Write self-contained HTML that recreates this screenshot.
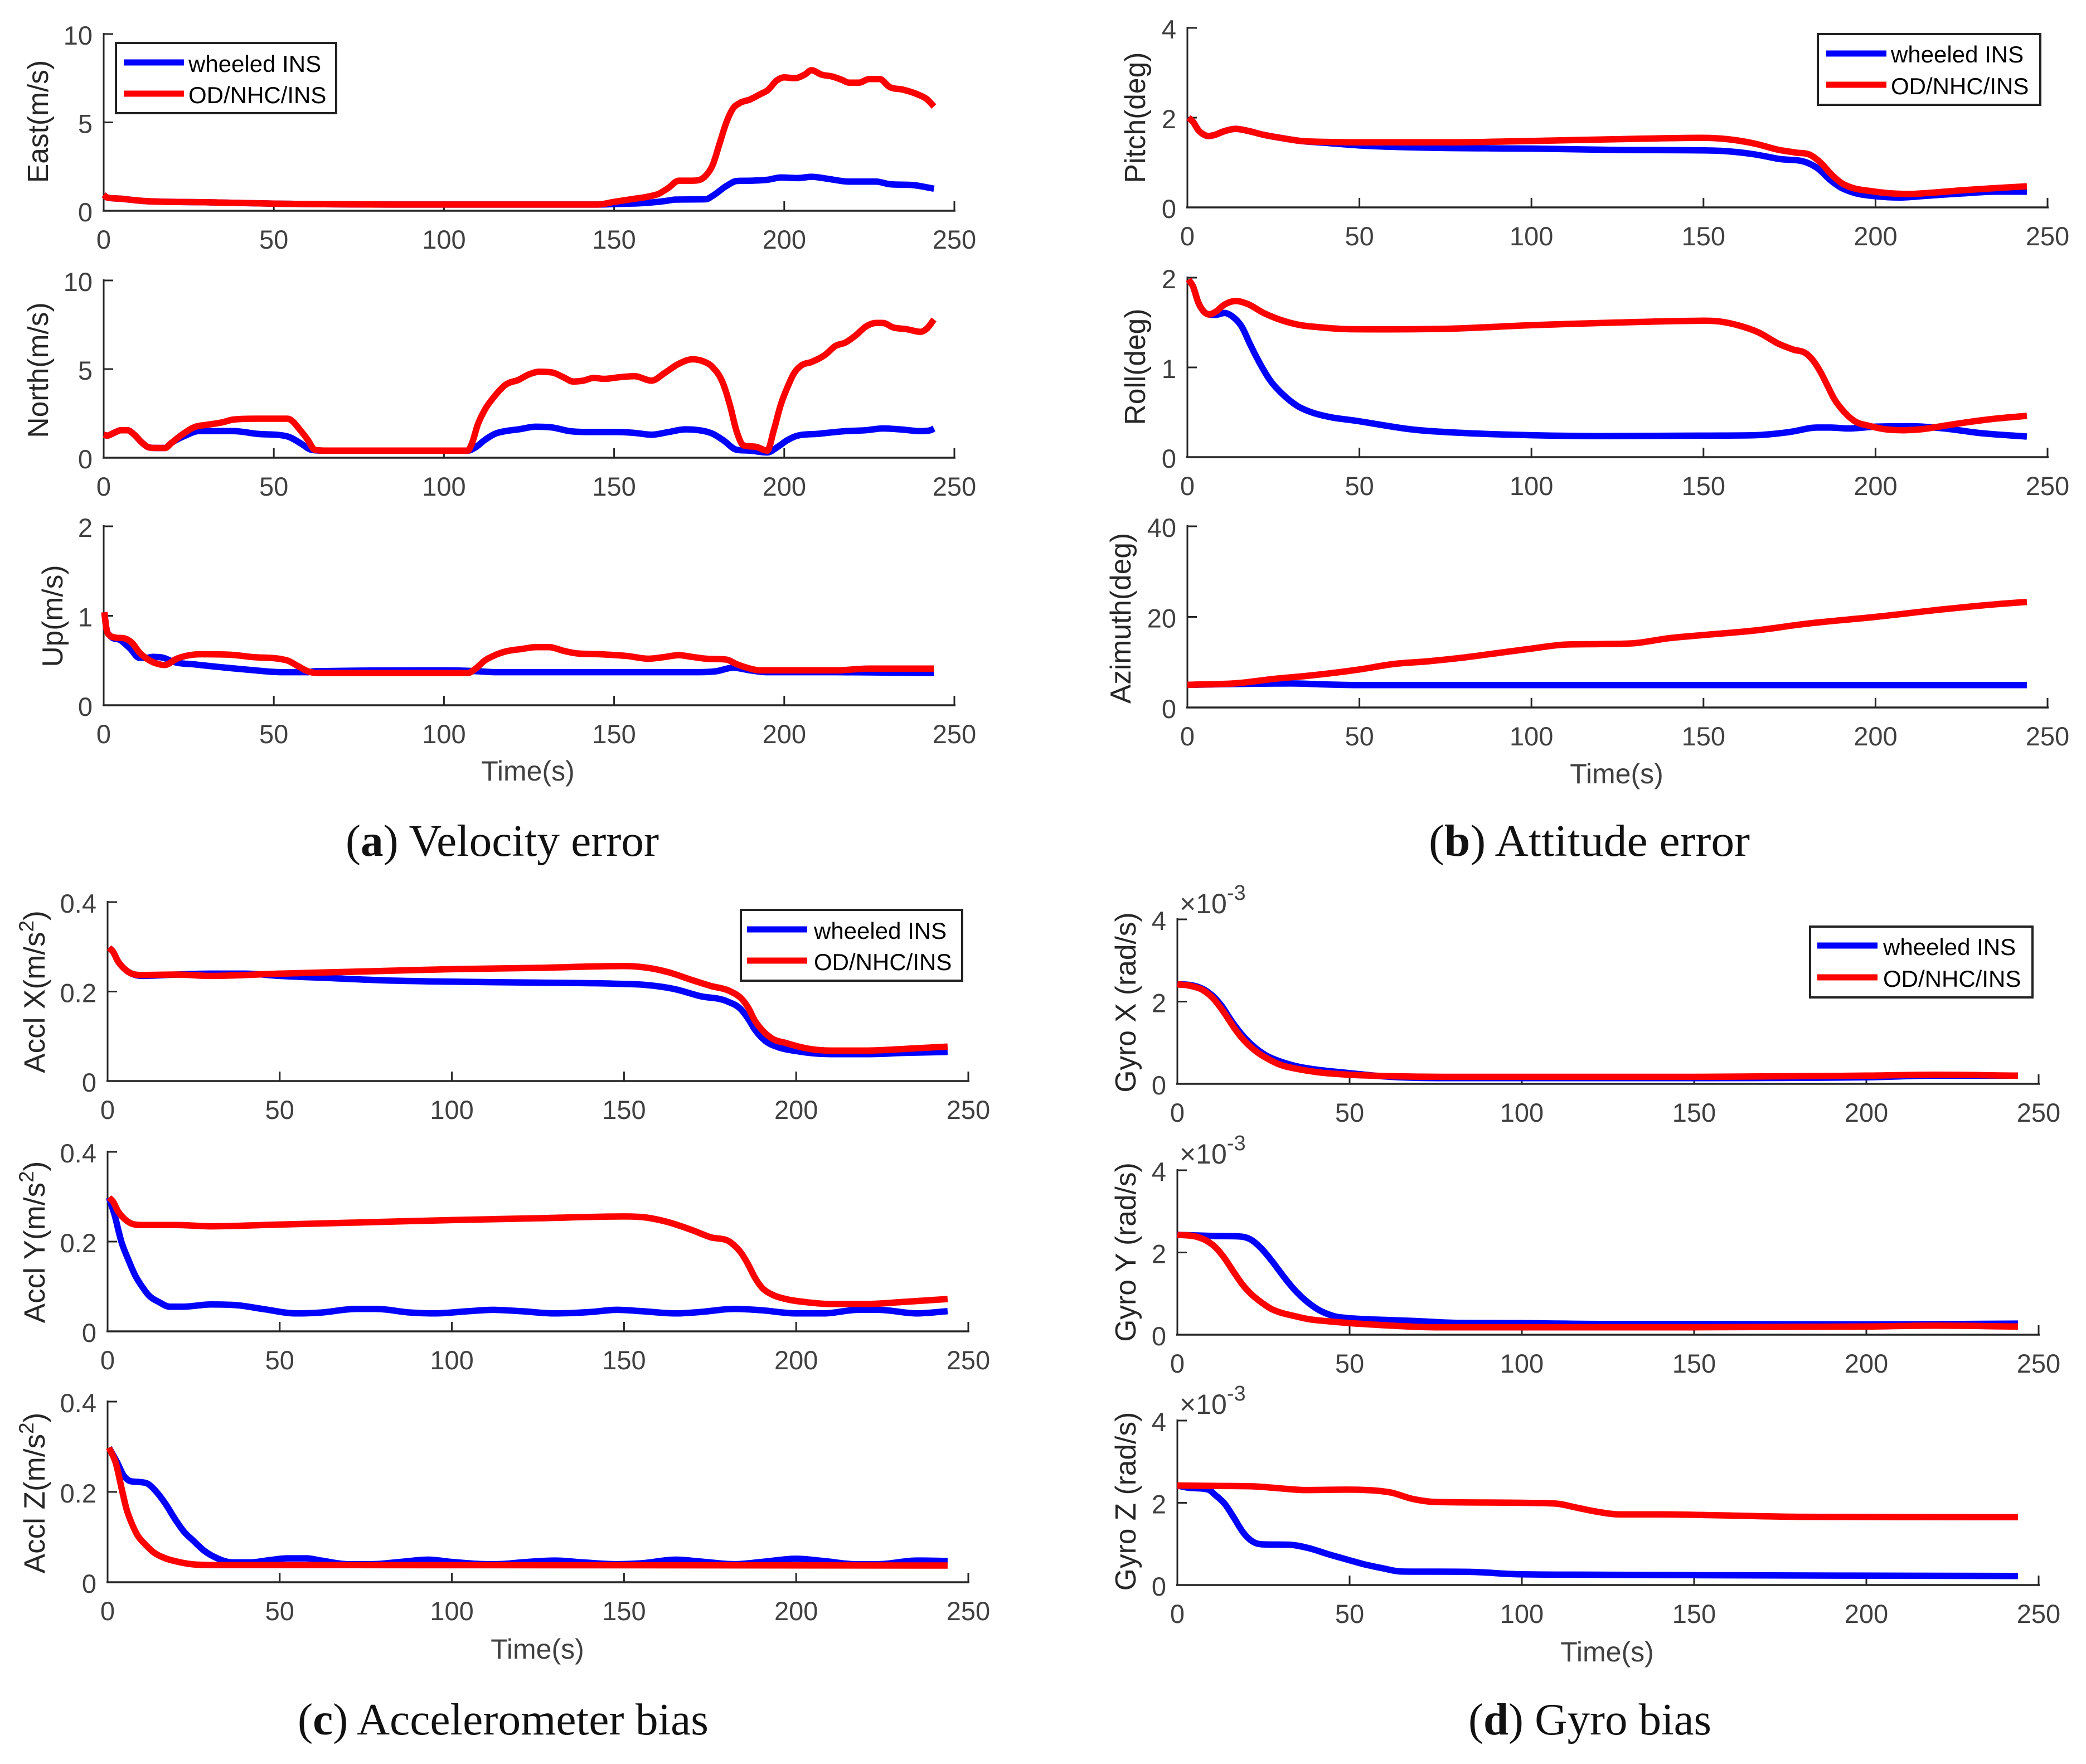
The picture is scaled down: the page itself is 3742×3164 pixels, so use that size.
<!DOCTYPE html>
<html lang="en">
<head>
<meta charset="utf-8">
<title>Velocity, attitude and bias error charts</title>
<style>
html,body{margin:0;padding:0;background:#fff;}
svg{display:block;}
text{font-family:"Liberation Sans",sans-serif;}
.ylab{font-size:51.5px;fill:#262626;}
.ylab-acc{font-size:53px;fill:#262626;}
.xlab{font-size:50px;fill:#404040;text-anchor:middle;}
.tick{font-size:47px;fill:#404040;}
.leg{font-size:42px;fill:#000;}
.cap{font-family:"Liberation Serif",serif;font-size:80px;fill:#111;}
.exp{font-size:50px;fill:#404040;}
</style>
</head>
<body>
<svg xmlns="http://www.w3.org/2000/svg" width="3742" height="3164" viewBox="0 0 3742 3164">
<rect width="3742" height="3164" fill="#fff"/>

<g>
  <g id="plot-east"></g>
  <g id="plot-north"></g>
  <g id="plot-up"></g>
  <text class="ylab" transform="translate(86 218) rotate(-90)" text-anchor="middle">East(m/s)</text>
  <text class="ylab" transform="translate(86 664) rotate(-90)" text-anchor="middle">North(m/s)</text>
  <text class="ylab" transform="translate(112 1105) rotate(-90)" text-anchor="middle">Up(m/s)</text>
  <text class="xlab" x="947" y="1400">Time(s)</text>
  <g>
    <rect x="208" y="77" width="395" height="126" fill="#fff" stroke="#222" stroke-width="4"/>
    <line x1="222" x2="330" y1="112" y2="112" stroke="#0000ff" stroke-width="11"/>
    <text class="leg" x="338" y="129">wheeled INS</text>
    <line x1="222" x2="330" y1="168" y2="168" stroke="#ff0000" stroke-width="11"/>
    <text class="leg" x="338" y="185">OD/NHC/INS</text>
  </g>
  <text class="cap" x="620" y="1535" textLength="562" lengthAdjust="spacingAndGlyphs">(<tspan font-weight="bold">a</tspan>) Velocity error</text>
</g>

<g>
  <g id="plot-pitch"></g>
  <g id="plot-roll"></g>
  <g id="plot-azimuth"></g>
  <text class="ylab" transform="translate(2054 211) rotate(-90)" text-anchor="middle">Pitch(deg)</text>
  <text class="ylab" transform="translate(2054 658) rotate(-90)" text-anchor="middle">Roll(deg)</text>
  <text class="ylab" transform="translate(2028 1109) rotate(-90)" text-anchor="middle">Azimuth(deg)</text>
  <text class="xlab" x="2900" y="1405">Time(s)</text>
  <g>
    <rect x="3261" y="61" width="399" height="127" fill="#fff" stroke="#222" stroke-width="4"/>
    <line x1="3276" x2="3384" y1="96" y2="96" stroke="#0000ff" stroke-width="11"/>
    <text class="leg" x="3392" y="112">wheeled INS</text>
    <line x1="3276" x2="3384" y1="152" y2="152" stroke="#ff0000" stroke-width="11"/>
    <text class="leg" x="3392" y="169">OD/NHC/INS</text>
  </g>
  <text class="cap" x="2563" y="1535" textLength="576" lengthAdjust="spacingAndGlyphs">(<tspan font-weight="bold">b</tspan>) Attitude error</text>
</g>

<g>
  <g id="plot-acclx"></g>
  <g id="plot-accly"></g>
  <g id="plot-acclz"></g>
  <text class="ylab-acc" transform="translate(80 1779) rotate(-90)" text-anchor="middle">Accl X(m/s<tspan font-size="37" dy="-20">2</tspan><tspan dy="20">)</tspan></text>
  <text class="ylab-acc" transform="translate(80 2228) rotate(-90)" text-anchor="middle">Accl Y(m/s<tspan font-size="37" dy="-20">2</tspan><tspan dy="20">)</tspan></text>
  <text class="ylab-acc" transform="translate(80 2678) rotate(-90)" text-anchor="middle">Accl Z(m/s<tspan font-size="37" dy="-20">2</tspan><tspan dy="20">)</tspan></text>
  <text class="xlab" x="964" y="2975">Time(s)</text>
  <g>
    <rect x="1329" y="1632" width="397" height="127" fill="#fff" stroke="#222" stroke-width="4"/>
    <line x1="1340" x2="1448" y1="1667" y2="1667" stroke="#0000ff" stroke-width="11"/>
    <text class="leg" x="1460" y="1684">wheeled INS</text>
    <line x1="1340" x2="1448" y1="1723" y2="1723" stroke="#ff0000" stroke-width="11"/>
    <text class="leg" x="1460" y="1740">OD/NHC/INS</text>
  </g>
  <text class="cap" x="534" y="3111" textLength="737" lengthAdjust="spacingAndGlyphs">(<tspan font-weight="bold">c</tspan>) Accelerometer bias</text>
</g>

<g>
  <g id="plot-gyrox"></g>
  <g id="plot-gyroy"></g>
  <g id="plot-gyroz"></g>
  <text class="ylab" transform="translate(2037 1798) rotate(-90)" text-anchor="middle">Gyro X (rad/s)</text>
  <text class="ylab" transform="translate(2037 2246) rotate(-90)" text-anchor="middle">Gyro Y (rad/s)</text>
  <text class="ylab" transform="translate(2037 2693) rotate(-90)" text-anchor="middle">Gyro Z (rad/s)</text>
  <text class="exp" x="2116" y="1638">×10<tspan font-size="38" dy="-24">-3</tspan></text>
  <text class="exp" x="2116" y="2087">×10<tspan font-size="38" dy="-24">-3</tspan></text>
  <text class="exp" x="2116" y="2536">×10<tspan font-size="38" dy="-24">-3</tspan></text>
  <text class="xlab" x="2883" y="2980">Time(s)</text>
  <g>
    <rect x="3247" y="1662" width="399" height="127" fill="#fff" stroke="#222" stroke-width="4"/>
    <line x1="3260" x2="3368" y1="1696" y2="1696" stroke="#0000ff" stroke-width="11"/>
    <text class="leg" x="3378" y="1713">wheeled INS</text>
    <line x1="3260" x2="3368" y1="1753" y2="1753" stroke="#ff0000" stroke-width="11"/>
    <text class="leg" x="3378" y="1770">OD/NHC/INS</text>
  </g>
  <text class="cap" x="2634" y="3111" textLength="436" lengthAdjust="spacingAndGlyphs">(<tspan font-weight="bold">d</tspan>) Gyro bias</text>
</g>
</svg>

<script>
const xTickLabels=[0,50,100,150,200,250];
const eastTicks=[0,5,10], northTicks=[0,5,10], upTicks=[0,1,2];
const pitchTicks=[0,2,4], rollTicks=[0,1,2], azimuthTicks=[0,20,40];
const acclTicks=[0,0.2,0.4], gyroTicks=[0,2,4];

const eastBlueT=[0,1,5,12,30,50,100,145,150,160,165,168,177,179,183,186,190,195,199,204,208,213,219,227,231,238,244];
const eastBlueV=[0.9,0.75,0.68,0.55,0.48,0.4,0.35,0.35,0.38,0.45,0.55,0.63,0.65,0.85,1.4,1.68,1.7,1.75,1.88,1.85,1.92,1.8,1.65,1.65,1.5,1.45,1.25];
const eastRedT=[0,1,5,12,30,50,100,145,150,155,160,163,166,169,173,177,179,181,183,185,187,190,193,195,198,200,203,206,208,211,214,217,219,222,225,228,231,235,239,242,244];
const eastRedV=[0.9,0.75,0.68,0.55,0.48,0.4,0.35,0.35,0.5,0.65,0.8,0.95,1.3,1.7,1.7,2.0,2.6,3.8,5.0,5.8,6.1,6.3,6.6,6.8,7.4,7.55,7.5,7.7,7.95,7.7,7.6,7.4,7.25,7.25,7.45,7.45,7.0,6.85,6.6,6.3,5.9];

const northBlueT=[0,1,3,5,7,9,11,13,15,18,20,24,28,38,45,54,58,61,65,107,109,112,115,118,122,127,132,137,143,150,156,161,166,171,175,179,182,186,190,195,198,201,204,210,218,224,229,234,240,243,244];
const northBlueV=[1.3,1.25,1.4,1.55,1.55,1.3,0.9,0.6,0.55,0.55,0.85,1.25,1.5,1.5,1.35,1.2,0.8,0.45,0.4,0.4,0.55,1.0,1.35,1.5,1.6,1.75,1.7,1.5,1.45,1.45,1.4,1.3,1.45,1.6,1.55,1.35,1.0,0.45,0.4,0.3,0.6,1.0,1.25,1.35,1.5,1.55,1.65,1.6,1.5,1.55,1.65];
const northRedT=[0,1,3,5,7,9,11,13,15,18,20,23,27,30,35,38,45,54,58,60,62,65,107,108,110,112,115,118,122,125,128,132,135,138,141,144,147,152,156,161,165,169,173,176,179,182,184,186,188,192,195,197,199,201,203,205,208,212,215,218,221,224,227,229,232,236,240,242,244];
const northRedV=[1.3,1.25,1.4,1.55,1.55,1.3,0.9,0.6,0.55,0.55,0.85,1.3,1.75,1.85,2.0,2.15,2.2,2.2,1.5,1.0,0.45,0.4,0.4,0.7,1.9,2.7,3.5,4.1,4.4,4.7,4.85,4.8,4.55,4.3,4.35,4.5,4.45,4.55,4.6,4.35,4.8,5.3,5.55,5.45,5.1,4.2,3.0,1.5,0.7,0.6,0.4,1.6,3.0,4.0,4.8,5.2,5.4,5.8,6.3,6.5,6.9,7.4,7.6,7.6,7.35,7.25,7.1,7.3,7.8];

const upBlueT=[0.2,0.7,1.8,5,7.8,10.5,12.7,14.4,17.6,20.3,26.9,36,43.4,52,60,62,100,110,115,175,180,185,190,195,215,244];
const upBlueV=[1.04,0.88,0.78,0.726,0.633,0.53,0.53,0.54,0.53,0.488,0.456,0.42,0.394,0.37,0.37,0.38,0.39,0.38,0.37,0.37,0.38,0.42,0.39,0.37,0.37,0.36];
const upRedT=[0.2,0.7,1.8,3.4,6.2,8.4,10.5,12.7,15.5,17.9,21.5,26.4,28.6,36.8,43.4,54,57,60,63,107,109,112,115,118,123,127,131,135,139,146,154,160,165,169,173,177,183,186,189,193,200,215,225,244];
const upRedV=[1.04,0.88,0.78,0.757,0.747,0.695,0.59,0.52,0.467,0.45,0.52,0.566,0.57,0.566,0.54,0.5,0.44,0.38,0.36,0.36,0.4,0.5,0.56,0.6,0.63,0.65,0.65,0.61,0.58,0.57,0.55,0.52,0.54,0.56,0.54,0.52,0.51,0.46,0.42,0.39,0.39,0.39,0.41,0.41];

const pitchBlueT=[0.3,1.6,3.2,4.6,6.2,8.1,10.8,14,17.3,22,27,33,40,50,70,100,125,150,157,165,172,180,183,187,190,194,200,207,215,225,235,244];
const pitchBlueV=[2.0,1.91,1.72,1.63,1.59,1.62,1.7,1.75,1.71,1.62,1.55,1.48,1.44,1.38,1.33,1.31,1.28,1.27,1.25,1.18,1.08,1.0,0.88,0.6,0.44,0.32,0.25,0.22,0.26,0.31,0.35,0.35];
const pitchRedT=[0.3,1.6,3.2,4.6,6.2,8.1,10.8,14,17.3,22,27,33,40,50,75,100,125,150,157,165,172,177,181,184,187,190,194,198,205,210,215,225,235,244];
const pitchRedV=[2.0,1.91,1.72,1.63,1.59,1.62,1.7,1.75,1.71,1.62,1.55,1.48,1.46,1.45,1.45,1.48,1.52,1.55,1.52,1.42,1.28,1.22,1.17,1.0,0.75,0.55,0.42,0.37,0.31,0.3,0.32,0.38,0.43,0.47];

const rollBlueT=[0.3,1.6,3.2,4.6,6.2,8.1,10.8,13,15.7,18.4,21.2,23.8,27.6,32,36.3,41.7,49.3,53.6,65,80,100,120,150,165,175,183,187,192,200,210,220,230,244];
const rollBlueV=[1.98,1.905,1.72,1.63,1.59,1.585,1.606,1.57,1.46,1.244,1.036,0.87,0.705,0.57,0.497,0.445,0.404,0.377,0.31,0.27,0.245,0.235,0.24,0.245,0.28,0.33,0.33,0.32,0.34,0.345,0.32,0.27,0.23];
const rollRedT=[0.3,1.6,3.2,4.6,6.2,8.1,10.8,14.1,17.3,22.2,27.6,33,38.5,46.6,53.6,75,100,125,150,155,160,166,172,176,180,182,184,186,188,191,194,198,203,208,213,220,225,235,244];
const rollRedV=[1.98,1.905,1.72,1.63,1.59,1.617,1.7,1.74,1.71,1.606,1.523,1.47,1.447,1.426,1.424,1.43,1.47,1.5,1.52,1.51,1.47,1.39,1.26,1.2,1.15,1.07,0.95,0.8,0.65,0.5,0.4,0.35,0.31,0.3,0.31,0.35,0.38,0.43,0.46];

const azimuthBlueT=[0,15,30,40,50,244];
const azimuthBlueV=[5,5.2,5.3,5.1,4.95,4.95];
const azimuthRedT=[0,15,25,35,50,60,70,80,90,100,110,120,130,140,150,165,180,200,220,235,244];
const azimuthRedV=[5,5.4,6.3,7,8.4,9.6,10.2,11,12,13,13.9,14,14.2,15.3,16,17,18.5,20,21.7,22.8,23.3];

const acclXBlueT=[0.4,1.5,3,5,7,10,20,30,40,50,65,80,100,125,150,156,165,172,180,184,186,188,191,195,200,210,220,232,244];
const acclXBlueV=[0.298,0.29,0.268,0.25,0.24,0.235,0.238,0.24,0.24,0.235,0.23,0.225,0.222,0.22,0.217,0.215,0.205,0.19,0.178,0.16,0.14,0.115,0.09,0.075,0.067,0.06,0.06,0.063,0.065];
const acclXRedT=[0.4,1.5,3,5,7,10,20,30,50,75,100,125,150,156,163,170,175,181,184,186,188,190,193,197,203,210,220,232,244];
const acclXRedV=[0.298,0.29,0.268,0.25,0.24,0.237,0.238,0.235,0.24,0.245,0.25,0.253,0.257,0.254,0.243,0.225,0.213,0.2,0.185,0.165,0.135,0.115,0.095,0.085,0.073,0.068,0.068,0.072,0.077];

const acclYBlueT=[0.4,2,4,6,8,10,12,15,18,22,30,38,45,55,62,72,78,88,95,105,112,120,130,140,148,155,165,172,182,190,200,208,218,224,235,244];
const acclYBlueV=[0.298,0.26,0.2,0.16,0.125,0.1,0.08,0.065,0.055,0.055,0.06,0.058,0.05,0.04,0.042,0.05,0.05,0.042,0.04,0.045,0.048,0.045,0.04,0.043,0.048,0.045,0.04,0.043,0.05,0.047,0.04,0.04,0.048,0.048,0.04,0.045];
const acclYRedT=[0.4,1.5,3,5,7,10,20,30,50,75,100,125,150,156,163,170,175,181,184,186,188,190,193,197,203,210,220,232,244];
const acclYRedV=[0.298,0.29,0.268,0.25,0.24,0.237,0.237,0.234,0.238,0.243,0.248,0.252,0.256,0.254,0.243,0.225,0.21,0.198,0.175,0.15,0.12,0.098,0.082,0.072,0.065,0.061,0.061,0.066,0.072];

const acclZBlueT=[0.4,2.8,4.7,6.6,9.3,11.7,14.1,16.8,19.5,22.2,24.9,28.2,31.9,36.2,41.6,47,52.4,57.8,62,70,77,85,93,100,110,113,122,130,138,148,155,165,172,182,190,200,208,217,224,235,244];
const acclZBlueV=[0.298,0.265,0.236,0.224,0.222,0.218,0.201,0.174,0.141,0.112,0.092,0.069,0.053,0.044,0.044,0.049,0.053,0.053,0.048,0.04,0.04,0.045,0.05,0.045,0.04,0.04,0.045,0.048,0.044,0.04,0.042,0.05,0.046,0.04,0.045,0.052,0.047,0.04,0.04,0.048,0.047];
const acclZRedT=[0.4,2.5,4.1,5.5,7.1,8.7,10.9,13.6,16.8,20,24.4,32,60,244];
const acclZRedV=[0.298,0.261,0.207,0.162,0.129,0.104,0.084,0.065,0.053,0.046,0.04,0.038,0.038,0.037];

const gyroXBlueT=[0,4,8,11,13,15,17,20,23,26,30,35,40,50,60,80,100,150,200,220,244];
const gyroXBlueV=[2.42,2.4,2.28,2.08,1.88,1.62,1.38,1.08,0.85,0.68,0.54,0.42,0.35,0.26,0.18,0.14,0.14,0.14,0.16,0.2,0.2];
const gyroXRedT=[0,4,8,11,13,15,17,20,23,26,30,35,40,50,60,80,100,150,200,220,244];
const gyroXRedV=[2.42,2.38,2.25,2.02,1.8,1.55,1.3,1.0,0.78,0.62,0.46,0.36,0.29,0.22,0.19,0.17,0.17,0.17,0.2,0.22,0.2];

const gyroYBlueT=[0,3,11,18,21.2,24,27.2,29.9,32.6,35.3,38,40.7,43.4,46,48.8,54,60,70,80,100,125,150,200,244];
const gyroYBlueV=[2.43,2.42,2.4,2.39,2.32,2.13,1.82,1.52,1.23,0.98,0.78,0.62,0.51,0.44,0.41,0.38,0.36,0.33,0.29,0.28,0.26,0.26,0.25,0.27];
const gyroYRedT=[0,5.7,8.4,11,13.7,16.4,19.1,21.8,24.5,27.2,29.9,33.7,38,43.4,48.8,54,60,75,100,150,200,220,244];
const gyroYRedV=[2.43,2.38,2.29,2.13,1.86,1.52,1.2,0.96,0.78,0.63,0.54,0.46,0.38,0.33,0.29,0.26,0.23,0.18,0.18,0.18,0.2,0.22,0.2];

const gyroZBlueT=[0,3,9,11,13.7,16.4,19.1,21.8,24.5,32.6,38,43.4,48.8,54,59.5,65,85,100,125,150,244];
const gyroZBlueV=[2.42,2.37,2.32,2.19,1.98,1.64,1.28,1.06,0.99,0.98,0.9,0.76,0.63,0.51,0.41,0.33,0.32,0.26,0.25,0.24,0.22];
const gyroZRedT=[0,12,22,30,37,48.8,59.5,62,68,75,100,110,116,122,128,140,155,180,244];
const gyroZRedV=[2.42,2.41,2.4,2.35,2.31,2.32,2.28,2.25,2.1,2.02,2.0,1.98,1.88,1.78,1.72,1.72,1.7,1.66,1.65];

const NS='http://www.w3.org/2000/svg';

function scaleX(frame,t){return frame.left+t/250*(frame.right-frame.left);}
function scaleY(frame,v,max){return frame.bottom-v/max*(frame.bottom-frame.top);}

function smoothPath(px,py){
  const n=px.length,h=[],s=[],m=new Array(n);
  for(let i=0;i<n-1;i++){h[i]=px[i+1]-px[i];s[i]=(py[i+1]-py[i])/h[i];}
  m[0]=s[0];m[n-1]=s[n-2];
  for(let i=1;i<n-1;i++){
    if(s[i-1]*s[i]<=0){m[i]=0;}
    else{
      const avg=(s[i-1]*h[i]+s[i]*h[i-1])/(h[i]+h[i-1]);
      const lim=3*Math.min(Math.abs(s[i-1]),Math.abs(s[i]));
      m[i]=Math.sign(avg)*Math.min(Math.abs(avg),lim);
    }
  }
  let d='M'+px[0].toFixed(1)+' '+py[0].toFixed(1);
  for(let i=0;i<n-1;i++){
    const c=h[i]/3;
    d+='C'+(px[i]+c).toFixed(1)+' '+(py[i]+m[i]*c).toFixed(1)+' '+(px[i+1]-c).toFixed(1)+' '+(py[i+1]-m[i+1]*c).toFixed(1)+' '+px[i+1].toFixed(1)+' '+py[i+1].toFixed(1);
  }
  return d;
}

function drawPlot(id,frame,yTicks,blueT,blueV,redT,redV){
  const g=document.getElementById(id);
  const yMax=yTicks[yTicks.length-1];

  const xAxis=document.createElementNS(NS,'line');
  
  
  xAxis.setAttribute('x1',frame.left-2);
  xAxis.setAttribute('x2',frame.right+2);
  xAxis.setAttribute('y1',frame.bottom);
  xAxis.setAttribute('y2',frame.bottom);
  xAxis.setAttribute('stroke','#262626');
  xAxis.setAttribute('stroke-width','3.5');
  g.appendChild(xAxis);

  const yAxis=document.createElementNS(NS,'line');
  
  
  yAxis.setAttribute('x1',frame.left);
  yAxis.setAttribute('x2',frame.left);
  yAxis.setAttribute('y1',frame.top-2);
  yAxis.setAttribute('y2',frame.bottom);
  yAxis.setAttribute('stroke','#262626');
  yAxis.setAttribute('stroke-width','3');
  g.appendChild(yAxis);

  xTickLabels.forEach(function(t){
    const x=scaleX(frame,t);
    const mark=document.createElementNS(NS,'line');
    
    
    mark.setAttribute('x1',x);
    mark.setAttribute('x2',x);
    mark.setAttribute('y1',frame.bottom);
    mark.setAttribute('y2',frame.bottom-17);
    mark.setAttribute('stroke','#262626');
    mark.setAttribute('stroke-width','3');
    g.appendChild(mark);
    const label=document.createElementNS(NS,'text');
    
    
    label.setAttribute('class','tick');
    label.setAttribute('x',x);
    label.setAttribute('y',frame.bottom+68);
    label.setAttribute('text-anchor','middle');
    label.textContent=String(t);
    g.appendChild(label);
  });

  yTicks.forEach(function(v){
    const y=scaleY(frame,v,yMax);
    const mark=document.createElementNS(NS,'line');
    
    
    mark.setAttribute('x1',frame.left);
    mark.setAttribute('x2',frame.left+17);
    mark.setAttribute('y1',y);
    mark.setAttribute('y2',y);
    mark.setAttribute('stroke','#262626');
    mark.setAttribute('stroke-width','3');
    g.appendChild(mark);
    const label=document.createElementNS(NS,'text');
    
    
    label.setAttribute('class','tick');
    label.setAttribute('x',frame.left-20);
    label.setAttribute('y',y+19);
    label.setAttribute('text-anchor','end');
    label.textContent=String(v);
    g.appendChild(label);
  });

  const blue=document.createElementNS(NS,'path');
  
  
  blue.setAttribute('d',smoothPath(blueT.map(function(t){return scaleX(frame,t);}),blueV.map(function(v){return scaleY(frame,v,yMax);})));
  blue.setAttribute('fill','none');
  blue.setAttribute('stroke','#0000ff');
  blue.setAttribute('stroke-width','11.5');
  blue.setAttribute('stroke-linejoin','round');
  g.appendChild(blue);

  const red=document.createElementNS(NS,'path');
  
  
  red.setAttribute('d',smoothPath(redT.map(function(t){return scaleX(frame,t);}),redV.map(function(v){return scaleY(frame,v,yMax);})));
  red.setAttribute('fill','none');
  red.setAttribute('stroke','#ff0000');
  red.setAttribute('stroke-width','11.5');
  red.setAttribute('stroke-linejoin','round');
  g.appendChild(red);
}

drawPlot('plot-east',{left:186,right:1712,top:61,bottom:378},eastTicks,eastBlueT,eastBlueV,eastRedT,eastRedV);
drawPlot('plot-north',{left:186,right:1712,top:503,bottom:821},northTicks,northBlueT,northBlueV,northRedT,northRedV);
drawPlot('plot-up',{left:186,right:1712,top:944,bottom:1265},upTicks,upBlueT,upBlueV,upRedT,upRedV);

drawPlot('plot-pitch',{left:2130,right:3673,top:50,bottom:372},pitchTicks,pitchBlueT,pitchBlueV,pitchRedT,pitchRedV);
drawPlot('plot-roll',{left:2130,right:3673,top:498,bottom:820},rollTicks,rollBlueT,rollBlueV,rollRedT,rollRedV);
drawPlot('plot-azimuth',{left:2130,right:3673,top:944,bottom:1269},azimuthTicks,azimuthBlueT,azimuthBlueV,azimuthRedT,azimuthRedV);

drawPlot('plot-acclx',{left:193,right:1737,top:1618,bottom:1939},acclTicks,acclXBlueT,acclXBlueV,acclXRedT,acclXRedV);
drawPlot('plot-accly',{left:193,right:1737,top:2066,bottom:2388},acclTicks,acclYBlueT,acclYBlueV,acclYRedT,acclYRedV);
drawPlot('plot-acclz',{left:193,right:1737,top:2514,bottom:2838},acclTicks,acclZBlueT,acclZBlueV,acclZRedT,acclZRedV);

drawPlot('plot-gyrox',{left:2112,right:3657,top:1649,bottom:1944},gyroTicks,gyroXBlueT,gyroXBlueV,gyroXRedT,gyroXRedV);
drawPlot('plot-gyroy',{left:2112,right:3657,top:2099,bottom:2394},gyroTicks,gyroYBlueT,gyroYBlueV,gyroYRedT,gyroYRedV);
drawPlot('plot-gyroz',{left:2112,right:3657,top:2548,bottom:2843},gyroTicks,gyroZBlueT,gyroZBlueV,gyroZRedT,gyroZRedV);
</script>
</body>
</html>
